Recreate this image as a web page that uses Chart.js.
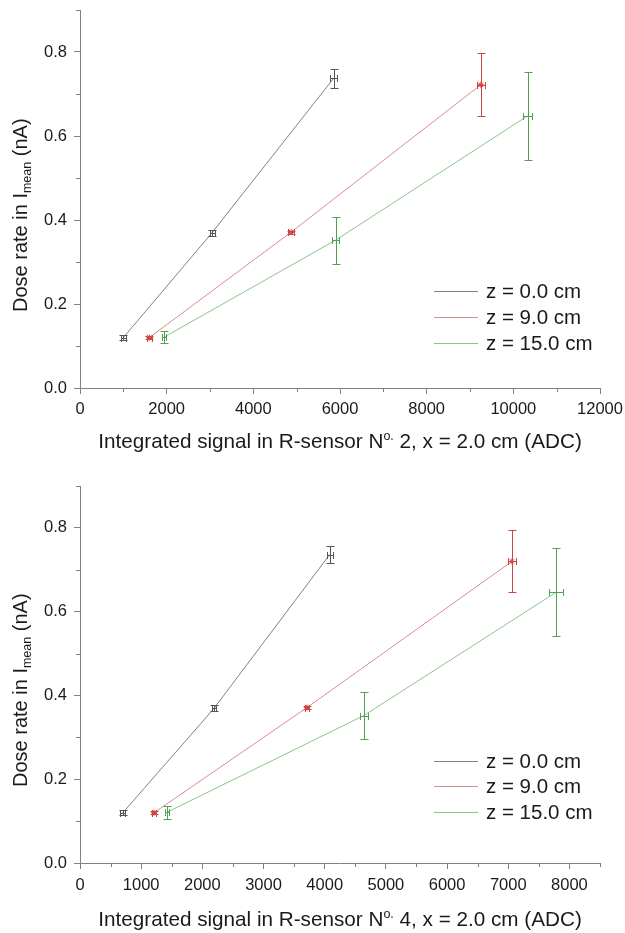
<!DOCTYPE html>
<html><head><meta charset="utf-8">
<script src="https://cdn.jsdelivr.net/npm/chart.js@4.4.0/dist/chart.umd.min.js"></script>
<style>
html,body{margin:0;padding:0;background:#fff;}
canvas{display:block;}
</style></head><body>
<canvas id="c1" width="625" height="466"></canvas>
<canvas id="c2" width="625" height="467"></canvas>
<script>
// ---- data ----
const seriesLabels = ['z = 0.0 cm', 'z = 9.0 cm', 'z = 15.0 cm'];

// chart 1: R-sensor No. 2
const s2_z0_x  = [1000, 3050, 5850];
const s2_z0_y  = [0.120, 0.370, 0.737];
const s2_z0_ex = [60, 60, 90];
const s2_z0_ey = [0.006, 0.007, 0.023];

const s2_z9_x  = [1600, 4870, 9250];
const s2_z9_y  = [0.120, 0.371, 0.722];
const s2_z9_ex = [60, 60, 100];
const s2_z9_ey = [0.004, 0.004, 0.075];

const s2_z15_x  = [1940, 5900, 10330];
const s2_z15_y  = [0.121, 0.352, 0.648];
const s2_z15_ex = [40, 80, 110];
const s2_z15_ey = [0.015, 0.056, 0.105];

// chart 2: R-sensor No. 4
const s4_z0_x  = [700, 2190, 4080];
const s4_z0_y  = [0.120, 0.369, 0.736];
const s4_z0_ex = [40, 40, 50];
const s4_z0_ey = [0.006, 0.007, 0.021];

const s4_z9_x  = [1210, 3710, 7060];
const s4_z9_y  = [0.120, 0.371, 0.720];
const s4_z9_ex = [40, 40, 70];
const s4_z9_ey = [0.004, 0.004, 0.074];

const s4_z15_x  = [1420, 4640, 7780];
const s4_z15_y  = [0.121, 0.352, 0.646];
const s4_z15_ex = [30, 60, 120];
const s4_z15_ey = [0.015, 0.056, 0.105];

const xTitleNum = ['2', '4'];
const xTicks2 = [0, 2000, 4000, 6000, 8000, 10000, 12000];
const xTicks4 = [0, 1000, 2000, 3000, 4000, 5000, 6000, 7000, 8000];
const yTicks = [0, 0.2, 0.4, 0.6, 0.8];

// ---- styles ----
const lineColors = ['#808080', '#dd8c8c', '#8cc48c'];
const errColors  = ['#555555', '#c84848', '#4fa04f'];
const axisColor  = '#808080';
const FONT = "'Liberation Sans', Arial, sans-serif";

function pts(xs, ys, exs, eys) {
  return xs.map((v, i) => ({x: v, y: ys[i], ex: exs[i], ey: eys[i]}));
}

const errPlugin = {
  id: 'errbars',
  afterDatasetsDraw(chart) {
    const {ctx} = chart; const x = chart.scales.x, y = chart.scales.y;
    chart.data.datasets.forEach((ds, i) => {
      ctx.save();
      ctx.strokeStyle = errColors[i]; ctx.lineWidth = 1;
      const cap = 4;
      ds.data.forEach(p => {
        const px = Math.round(x.getPixelForValue(p.x)) + 0.5;
        const py = Math.round(y.getPixelForValue(p.y)) + 0.5;
        const y1 = Math.round(y.getPixelForValue(p.y - p.ey)) + 0.5;
        const y2 = Math.round(y.getPixelForValue(p.y + p.ey)) + 0.5;
        const x1 = Math.round(x.getPixelForValue(p.x - p.ex)) + 0.5;
        const x2 = Math.round(x.getPixelForValue(p.x + p.ex)) + 0.5;
        ctx.beginPath();
        ctx.moveTo(px, y1); ctx.lineTo(px, y2);
        ctx.moveTo(px - cap, y1); ctx.lineTo(px + cap, y1);
        ctx.moveTo(px - cap, y2); ctx.lineTo(px + cap, y2);
        ctx.moveTo(x1, py); ctx.lineTo(x2, py);
        ctx.moveTo(x1, py - 3.5); ctx.lineTo(x1, py + 3.5);
        ctx.moveTo(x2, py - 3.5); ctx.lineTo(x2, py + 3.5);
        ctx.stroke();
      });
      ctx.restore();
    });
  }
};

const decoPlugin = {
  id: 'deco',
  afterDraw(chart, args, opts) {
    const {ctx, chartArea: a} = chart; const x = chart.scales.x, y = chart.scales.y;
    ctx.save();
    // minor ticks
    ctx.strokeStyle = axisColor; ctx.lineWidth = 1;
    ctx.beginPath();
    for (let v = opts.xMinor; v <= x.max + 1e-9; v += opts.xMinor * 2) {
      const px = Math.round(x.getPixelForValue(v)) + 0.5;
      ctx.moveTo(px, a.bottom); ctx.lineTo(px, a.bottom + 4);
    }
    for (let v = 0.1; v <= y.max + 1e-9; v += 0.2) {
      const py = Math.round(y.getPixelForValue(v)) + 0.5;
      ctx.moveTo(a.left, py); ctx.lineTo(a.left - 4, py);
    }
    ctx.stroke();

    ctx.fillStyle = '#1a1a1a';
    // x title
    const parts = [
      {t: 'Integrated signal in R-sensor N', f: '20.7px ' + FONT, dy: 0},
      {t: 'o.', f: '12.5px ' + FONT, dy: -8},
      {t: ' ' + opts.num + ', x = 2.0 cm (ADC)', f: '20.7px ' + FONT, dy: 0}
    ];
    let total = 0;
    parts.forEach(p => { ctx.font = p.f; p.w = ctx.measureText(p.t).width; total += p.w; });
    let cx = (a.left + a.right) / 2 - total / 2;
    const by = a.bottom + opts.xTitleOff;
    ctx.textBaseline = 'alphabetic'; ctx.textAlign = 'left';
    parts.forEach(p => { ctx.font = p.f; ctx.fillText(p.t, cx, by + p.dy); cx += p.w; });

    // y title (rotated)
    ctx.save();
    ctx.translate(27, a.bottom - 76);
    ctx.rotate(-Math.PI / 2);
    const yp = [
      {t: 'Dose rate in I', f: '20px ' + FONT, dy: 0},
      {t: 'mean', f: '12.5px ' + FONT, dy: 4},
      {t: ' (nA)', f: '20px ' + FONT, dy: 0}
    ];
    let ox = 0;
    yp.forEach(p => { ctx.font = p.f; ctx.fillText(p.t, ox, p.dy); ox += ctx.measureText(p.t).width; });
    ctx.restore();

    // legend
    ctx.font = '20.5px ' + FONT; ctx.textBaseline = 'middle';
    chart.data.datasets.forEach((ds, i) => {
      const ly = Math.round(a.bottom + opts.legendY[i]) + 0.5;
      ctx.strokeStyle = lineColors[i]; ctx.lineWidth = 1;
      ctx.beginPath(); ctx.moveTo(434, ly); ctx.lineTo(478, ly); ctx.stroke();
      ctx.fillText(ds.label, 486, ly + 1);
    });
    ctx.restore();
  }
};

function makeChart(id, sets, xMax, xTicks, xMinor, num, xTitleOff, legendY, tickPad, padTop, xHeight) {
  const datasets = sets.map((d, i) => ({
    label: seriesLabels[i],
    data: d,
    borderColor: lineColors[i],
    borderWidth: 1,
    pointRadius: i === 1 ? 3 : 0,
    pointStyle: 'star',
    pointBorderColor: '#e03030',
    pointBorderWidth: 1,
    showLine: true,
    fill: false,
    tension: 0
  }));
  return new Chart(document.getElementById(id), {
    type: 'scatter',
    data: {datasets},
    plugins: [errPlugin, decoPlugin],
    options: {
      responsive: false,
      animation: false,
      layout: {padding: {top: padTop, right: 25, left: 0, bottom: 0}},
      plugins: {legend: {display: false}, tooltip: {enabled: false},
        deco: {xMinor, num, xTitleOff, legendY}},
      scales: {
        x: {
          type: 'linear', min: 0, max: xMax,
          border: {display: true, color: axisColor, width: 1},
          grid: {display: true, drawOnChartArea: false, drawTicks: true, tickLength: 6, tickColor: axisColor},
          ticks: {color: '#1a1a1a', font: {family: FONT, size: 16.5}, padding: tickPad, maxRotation: 0, autoSkip: false,
            callback: v => String(v)},
          afterBuildTicks: s => { s.ticks = xTicks.map(v => ({value: v})); },
          afterFit: s => { s.height = xHeight; s.paddingLeft = 0; s.paddingRight = 0; }
        },
        y: {
          type: 'linear', min: 0, max: 0.9,
          border: {display: true, color: axisColor, width: 1},
          grid: {display: true, drawOnChartArea: false, drawTicks: true, tickLength: 6, tickColor: axisColor},
          ticks: {color: '#1a1a1a', font: {family: FONT, size: 16.5}, padding: 7,
            callback: v => v.toFixed(1)},
          afterBuildTicks: s => { s.ticks = yTicks.map(v => ({value: v})); },
          afterFit: s => { s.width = 80; s.paddingTop = 0; s.paddingBottom = 0; }
        }
      }
    }
  });
}

makeChart('c1', [
  pts(s2_z0_x, s2_z0_y, s2_z0_ex, s2_z0_ey),
  pts(s2_z9_x, s2_z9_y, s2_z9_ex, s2_z9_ey),
  pts(s2_z15_x, s2_z15_y, s2_z15_ex, s2_z15_ey)
], 12000, xTicks2, 1000, xTitleNum[0], 60, [-97, -71, -45], 6, 10, 78);

makeChart('c2', [
  pts(s4_z0_x, s4_z0_y, s4_z0_ex, s4_z0_ey),
  pts(s4_z9_x, s4_z9_y, s4_z9_ex, s4_z9_ey),
  pts(s4_z15_x, s4_z15_y, s4_z15_ex, s4_z15_ey)
], 8500, xTicks4, 500, xTitleNum[1], 63, [-102, -77, -51], 7, 20, 70);
</script>
</body></html>
